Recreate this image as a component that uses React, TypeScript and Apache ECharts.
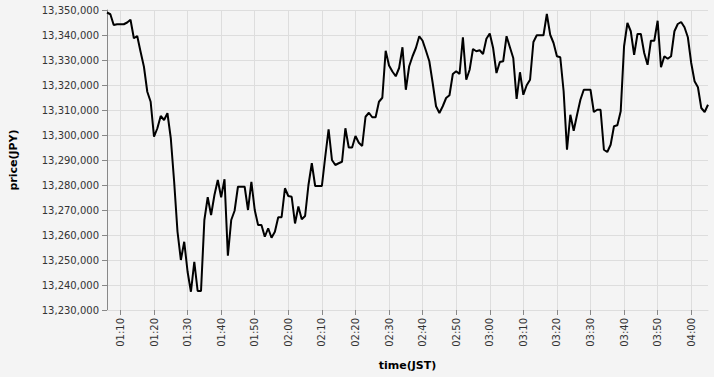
import React, { useEffect, useRef } from "react";
import * as echarts from "echarts";

// First sample time (JST) and one sample per minute
const START_HOUR = 1;
const START_MINUTE = 6;

const prices: number[] = [
  13349000, 13348300, 13344000, 13344300, 13344300, 13344300, 13345000, 13346100, 13338700, 13339600,
  13333300, 13327300, 13317300, 13313300, 13299300, 13302700, 13307600, 13306000, 13308700, 13298700,
  13281300, 13261300, 13250000, 13257300, 13245300, 13237300, 13249300, 13237600, 13237600, 13266000,
  13275100, 13268000, 13276000, 13282000, 13275100, 13282300, 13251700, 13266000, 13269700, 13279300,
  13279300, 13279300, 13270000, 13281300, 13270000, 13264000, 13264000, 13259300, 13262700, 13258900,
  13261300, 13267100, 13267100, 13278700, 13275600, 13275300, 13264600, 13271400, 13266300, 13267600,
  13280000, 13288700, 13279600, 13279600, 13279600, 13291300, 13302300, 13290000, 13288000, 13288700,
  13289300, 13302700, 13295000, 13295000, 13299600, 13296900, 13295600, 13307300, 13308900, 13307100,
  13307100, 13313300, 13314900, 13333700, 13327800, 13325400, 13323500, 13326800, 13335100, 13318100,
  13327500, 13331500, 13334800, 13339500, 13337700, 13333700, 13329500, 13320800, 13311500, 13308800,
  13311500, 13314800, 13315900, 13324400, 13325500, 13324400, 13339100, 13322100, 13326100, 13334400,
  13333500, 13333900, 13332400, 13338500, 13340600, 13334800, 13324800, 13329200, 13329500, 13339500,
  13335100, 13330800, 13314400, 13325100, 13316100, 13319900, 13322100, 13337200, 13339900, 13339900,
  13339900, 13348400, 13340100, 13336800, 13331500, 13331100, 13317500, 13294100, 13308100, 13301700,
  13308100, 13314100, 13318100, 13318100, 13318100, 13309200, 13310100, 13310100, 13294100, 13293200,
  13296100, 13303500, 13303900, 13309500, 13335500, 13344800, 13341500, 13332100, 13340400, 13340400,
  13332800, 13328100, 13337700, 13337700, 13345700, 13327100, 13331500, 13330500, 13331500, 13341500,
  13344400, 13345200, 13343100, 13339100, 13328800, 13321500, 13319100, 13310800, 13309200, 13312100,
];

const Y_MIN = 13230000;
const Y_MAX = 13350000;
const Y_STEP = 10000;

const pad = (n: number) => (n < 10 ? "0" + n : "" + n);
const times: string[] = prices.map((_, i) => {
  const total = START_HOUR * 60 + START_MINUTE + i;
  return pad(Math.floor(total / 60)) + ":" + pad(total % 60);
});

const isTenMinute = (_idx: number, val: string) => val.endsWith("0");

export default function App() {
  const ref = useRef<HTMLDivElement>(null);
  useEffect(() => {
    if (!ref.current) return;
    const chart = echarts.init(ref.current, undefined, { renderer: "svg" });
    const font = "DejaVu Sans";
    chart.setOption({
      animation: false,
      backgroundColor: "#f4f4f4",
      grid: { left: 107, right: 6, top: 10, bottom: 67, containLabel: false },
      xAxis: {
        type: "category",
        data: times,
        boundaryGap: false,
        name: "time(JST)",
        nameLocation: "middle",
        nameGap: 50,
        nameTextStyle: { fontFamily: font, fontSize: 11, fontWeight: "bold", color: "#000" },
        axisLine: { show: true, lineStyle: { color: "#ddd", width: 1 } },
        axisTick: { show: true, interval: isTenMinute, length: 5, lineStyle: { color: "#888" } },
        axisLabel: {
          interval: isTenMinute,
          rotate: 90,
          margin: 8,
          fontFamily: font,
          fontSize: 10,
          color: "#333",
        },
        splitLine: { show: true, interval: isTenMinute, lineStyle: { color: "#ddd", width: 1 } },
      },
      yAxis: {
        type: "value",
        min: Y_MIN,
        max: Y_MAX,
        interval: Y_STEP,
        name: "price(JPY)",
        nameLocation: "middle",
        nameGap: 88,
        nameTextStyle: { fontFamily: font, fontSize: 11, fontWeight: "bold", color: "#000" },
        axisLine: { show: true, lineStyle: { color: "#888", width: 1 } },
        axisTick: { show: true, length: 5, lineStyle: { color: "#888" } },
        axisLabel: {
          margin: 8,
          fontFamily: font,
          fontSize: 10,
          color: "#333",
          formatter: (v: number) => v.toLocaleString("en-US"),
        },
        splitLine: { show: true, lineStyle: { color: "#ddd", width: 1 } },
      },
      series: [
        {
          type: "line",
          data: prices,
          showSymbol: false,
          symbol: "none",
          lineStyle: { color: "#000", width: 2 },
        },
      ],
    });
    return () => chart.dispose();
  }, []);
  return <div ref={ref} style={{ width: 714, height: 377, position: "absolute", left: 0, top: 0 }} />;
}
